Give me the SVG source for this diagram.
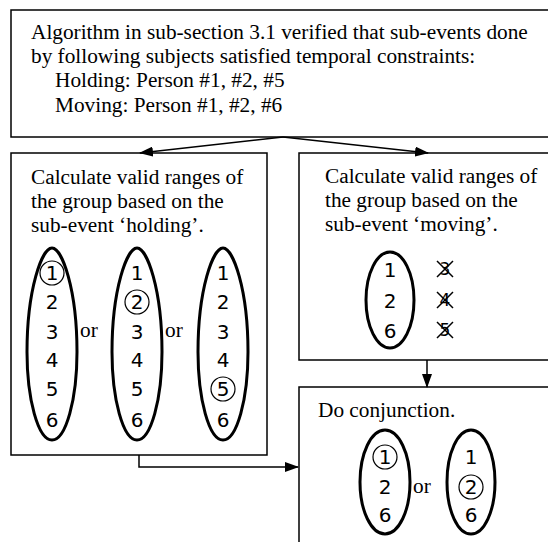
<svg xmlns="http://www.w3.org/2000/svg" width="548" height="542" viewBox="0 0 548 542">
<style>
.box{fill:#fff;stroke:#000;stroke-width:1.5}
.t{font-family:"Liberation Serif","Times New Roman",serif;font-size:21.3px;fill:#000}
.n{font-family:"DejaVu Sans",Verdana,sans-serif;font-size:20px;fill:#000;text-anchor:middle}
.ell{fill:none;stroke:#000;stroke-width:3}
.c{fill:none;stroke:#000;stroke-width:1.2}
.ln{fill:none;stroke:#000;stroke-width:1.5}
</style>
<defs>
<marker id="ah" markerWidth="14" markerHeight="10" refX="13" refY="5" orient="auto" markerUnits="userSpaceOnUse">
<path d="M0,0 L14,5 L0,10 Z" fill="#000"/>
</marker>
<path id="egg" d="M0,-96 C-10,-96 -25,-55 -25,8 C-25,55 -14,96 0,96 C14,96 25,55 25,8 C25,-55 10,-96 0,-96 Z"/>
</defs>
<g id="top">
<rect class="box" x="11" y="10" width="545" height="127"/>
<text class="t" x="31" y="39">Algorithm in sub-section 3.1 verified that sub-events done</text>
<text class="t" x="31" y="63">by following subjects satisfied temporal constraints:</text>
<text class="t" x="55" y="87">Holding: Person #1, #2, #5</text>
<text class="t" x="55" y="112">Moving: Person #1, #2, #6</text>
</g>
<g id="holding">
<rect class="box" x="11" y="153" width="256" height="302"/>
<text class="t" x="31" y="184">Calculate valid ranges of</text>
<text class="t" x="31" y="208">the group based on the</text>
<text class="t" x="31" y="232">sub-event ‘holding’.</text>
<use href="#egg" class="ell" x="52" y="344"/>
<use href="#egg" class="ell" x="137" y="344"/>
<use href="#egg" class="ell" x="223" y="344"/>
<g>
<text class="n" x="52" y="280">1</text><text class="n" x="52" y="309">2</text><text class="n" x="52" y="339">3</text><text class="n" x="52" y="367">4</text><text class="n" x="52" y="396">5</text><text class="n" x="52" y="427">6</text>
<text class="n" x="137" y="280">1</text><text class="n" x="137" y="309">2</text><text class="n" x="137" y="339">3</text><text class="n" x="137" y="367">4</text><text class="n" x="137" y="396">5</text><text class="n" x="137" y="427">6</text>
<text class="n" x="223" y="280">1</text><text class="n" x="223" y="309">2</text><text class="n" x="223" y="339">3</text><text class="n" x="223" y="367">4</text><text class="n" x="223" y="396">5</text><text class="n" x="223" y="427">6</text>
</g>
<circle class="c" cx="52" cy="273" r="12"/>
<circle class="c" cx="137" cy="302" r="12"/>
<circle class="c" cx="223" cy="389" r="12"/>
<text class="t" x="80" y="337">or</text>
<text class="t" x="165" y="337">or</text>
</g>
<g id="moving">
<rect class="box" x="299" y="153" width="260" height="207"/>
<text class="t" x="325" y="183">Calculate valid ranges of</text>
<text class="t" x="325" y="207">the group based on the</text>
<text class="t" x="325" y="231">sub-event ‘moving’.</text>
<ellipse class="ell" cx="390" cy="300" rx="24" ry="48"/>
<text class="n" x="390" y="277">1</text>
<text class="n" x="390" y="308">2</text>
<text class="n" x="390" y="338">6</text>
<g font-family="DejaVu Sans,Verdana,sans-serif" font-size="17" text-anchor="middle">
<text x="445" y="275">3</text>
<text x="445" y="306">4</text>
<text x="445" y="336">5</text>
</g>
<path class="ln" d="M437,261 L453,277 M453,261 L437,277 M437,292 L453,308 M453,292 L437,308 M437,322 L453,338 M453,322 L437,338"/>
</g>
<g id="conjunction">
<rect class="box" x="299" y="387" width="260" height="170"/>
<text class="t" x="318" y="417">Do conjunction.</text>
<ellipse class="ell" cx="385" cy="482" rx="25" ry="52"/>
<ellipse class="ell" cx="471" cy="482" rx="24" ry="52"/>
<text class="n" x="385" y="464">1</text><text class="n" x="385" y="494">2</text><text class="n" x="385" y="522">6</text>
<text class="n" x="471" y="464">1</text><text class="n" x="471" y="494">2</text><text class="n" x="471" y="522">6</text>
<circle class="c" cx="385" cy="457" r="12"/>
<circle class="c" cx="471" cy="487" r="12"/>
<text class="t" x="413" y="493">or</text>
</g>
<g id="connectors">
<line class="ln" x1="283" y1="137" x2="140" y2="153" marker-end="url(#ah)"/>
<line class="ln" x1="283" y1="137" x2="428" y2="153" marker-end="url(#ah)"/>
<line class="ln" x1="427" y1="360" x2="427" y2="387" marker-end="url(#ah)"/>
<polyline class="ln" points="139,455 139,467 298,467" marker-end="url(#ah)"/>
</g>
</svg>
